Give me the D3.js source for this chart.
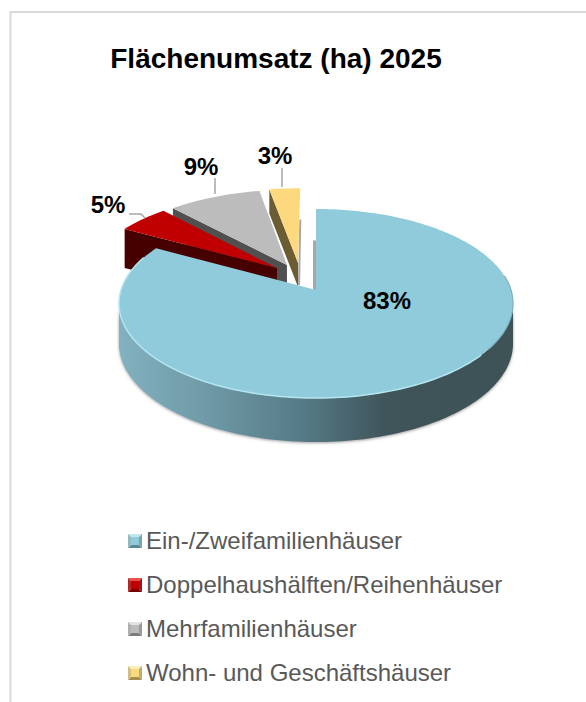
<!DOCTYPE html>
<html>
<head>
<meta charset="utf-8">
<script src="https://cdn.jsdelivr.net/npm/d3@7"></script>
<style>
  html, body { margin: 0; padding: 0; background: #fff; }
  svg { display: block; font-family: "Liberation Sans", Arial, sans-serif; }
</style>
</head>
<body>
<script>
// Chart data
const title = "Flächenumsatz (ha) 2025";
const categories = [
  "Ein-/Zweifamilienhäuser",
  "Doppelhaushälften/Reihenhäuser",
  "Mehrfamilienhäuser",
  "Wohn- und Geschäftshäuser",
];
const shares = [83, 5, 9, 3];
const shareLabels = ["83%", "5%", "9%", "3%"];

// Colours per slice
const topColors = ["#8fcbda", "#c00000", "#bcbcbc", "#fcd87e"];
const wallColors = ["#3d5257", "#470000", "#505050", "#6b5c33"];
const keyLight = ["#c3e6ee", "#e85050", "#e2e2e2", "#fdeebb"];
const keyDark = ["#5e8794", "#7a0000", "#7b7b7b", "#a58f50"];

const w = 586;
const h = 702;

// Perspective of the pie plane
const cx = 316;
const cy = 290;
const rx = 195;
const ry = 92.6;
const persp = 1 / 7;

// Slice offset on the pie plane and extrusion depth
const offsets = [[0, 0], [-0.207, -0.246], [-0.155, -0.281], [-0.096, -0.304]];
const depths = [40, 39, 30, 24];

// u, v are pie plane coordinates, radius 1 (v grows to the viewer)
function project(u, v) {
  const k = 1 - persp * v;
  return [cx + (rx * u) / k, cy + (ry * v) / k];
}

function rimPoint(i, a) {
  return project(offsets[i][0] + Math.sin(a), offsets[i][1] - Math.cos(a));
}

function apexPoint(i) {
  return project(offsets[i][0], offsets[i][1]);
}

const arcs = d3.pie().sort(null).value((d) => d)(shares);
const line = d3.line();

function sampleRim(i, a0, a1) {
  const n = Math.max(2, Math.ceil(Math.abs(a1 - a0) * 40));
  return d3.range(n + 1).map((k) => rimPoint(i, a0 + ((a1 - a0) * k) / n));
}

const svg = d3.select("body").append("svg").attr("width", w).attr("height", h);
const defs = svg.append("defs");

// Side of the big slice goes from light on the left to dark on the right
const wallGrad = defs
  .append("linearGradient")
  .attr("id", "wallGrad")
  .attr("gradientUnits", "userSpaceOnUse")
  .attr("x1", 119)
  .attr("x2", 513)
  .attr("y1", 0)
  .attr("y2", 0);
wallGrad.append("stop").attr("offset", 0).attr("stop-color", "#82b1bf");
wallGrad.append("stop").attr("offset", 0.22).attr("stop-color", "#6f9aa7");
wallGrad.append("stop").attr("offset", 0.47).attr("stop-color", "#557a85");
wallGrad.append("stop").attr("offset", 0.68).attr("stop-color", "#3f545a");
wallGrad.append("stop").attr("offset", 1).attr("stop-color", "#3d5257");

const soft = defs.append("filter").attr("id", "soft").attr("x", "-5%").attr("y", "-5%").attr("width", "110%").attr("height", "115%");
soft.append("feDropShadow").attr("dx", 0).attr("dy", 1).attr("stdDeviation", 1.5).attr("flood-color", "#777").attr("flood-opacity", 0.7);

const blur = defs.append("filter").attr("id", "blur");
blur.append("feGaussianBlur").attr("stdDeviation", 0.7);

// Frame, only top and left are in the crop
svg
  .append("path")
  .attr("d", `M10.5,${h}V12H${w}`)
  .attr("fill", "none")
  .attr("stroke", "#d9d9d9")
  .attr("stroke-width", 2);

svg
  .append("text")
  .attr("x", 276)
  .attr("y", 68)
  .attr("text-anchor", "middle")
  .attr("font-size", 28)
  .attr("font-weight", "bold")
  .attr("fill", "#000")
  .text(title);

// Thin shadows beside the cut edges
const shadows = [
  { i: 3, a: arcs[3].endAngle, dx: 2, from: 0, to: 0.55 },
  { i: 0, a: arcs[0].startAngle, dx: -3, from: 0, to: 0.58 },
];
shadows.forEach(function (s) {
  const a = project(offsets[s.i][0] + Math.sin(s.a) * s.from, offsets[s.i][1] - Math.cos(s.a) * s.from);
  const b = project(offsets[s.i][0] + Math.sin(s.a) * s.to, offsets[s.i][1] - Math.cos(s.a) * s.to);
  svg
    .append("path")
    .attr("d", line([[a[0], a[1] + (s.i === 3 ? 22 : 0)], b, [b[0] + s.dx, b[1]], [a[0] + s.dx, a[1] + (s.i === 3 ? 22 : 0)]]) + "Z")
    .attr("fill", "#a8a8a8")
    .attr("filter", "url(#blur)");
});

// Small slices, back to front, the big one covers their lower parts
[3, 2, 1].forEach(function (i) {
  const d = arcs[i];
  const apex = apexPoint(i);
  const outer = rimPoint(i, d.startAngle);
  svg
    .append("path")
    .attr("d", line([apex, outer, [outer[0], outer[1] + depths[i]], [apex[0], apex[1] + depths[i]]]) + "Z")
    .attr("fill", wallColors[i]);
  svg
    .append("path")
    .attr("d", line([apex].concat(sampleRim(i, d.startAngle, d.endAngle))) + "Z")
    .attr("fill", topColors[i]);
});

// Big slice
const big = arcs[0];
const sideRight = Math.acos(-persp);
const sideLeft = 2 * Math.PI - sideRight;
const frontRim = sampleRim(0, sideRight, sideLeft);
function sideDepth(p) {
  // a little deeper at the front of the pie
  return depths[0] + (4 * (p[1] - cy - 13)) / 95;
}
const wallPoints = frontRim.concat(
  frontRim
    .slice()
    .reverse()
    .map((p) => [p[0], p[1] + sideDepth(p)])
);
svg
  .append("path")
  .attr("d", line(wallPoints) + "Z")
  .attr("fill", "url(#wallGrad)")
  .attr("filter", "url(#soft)");
svg
  .append("path")
  .attr("d", line([apexPoint(0)].concat(sampleRim(0, big.startAngle, big.endAngle))) + "Z")
  .attr("fill", topColors[0]);

// Bevel along the front edge
svg
  .append("path")
  .attr("d", line(sampleRim(0, Math.PI * 0.72, Math.PI * 1.62)))
  .attr("fill", "none")
  .attr("stroke", "#b5e6f0")
  .attr("stroke-width", 1.5)
  .attr("filter", "url(#blur)");
svg
  .append("path")
  .attr("d", line(sampleRim(0, Math.PI * 0.45, Math.PI * 0.7)))
  .attr("fill", "none")
  .attr("stroke", "#7fb0bd")
  .attr("stroke-width", 1.2)
  .attr("filter", "url(#blur)");

// Leader lines and value labels
const leaders = [
  null,
  [[129, 214], [141, 214], [145, 218]],
  [[215, 178], [215, 194]],
  [[282, 168], [282, 187]],
];
const labelSpots = [[387, 303], [108, 207], [201, 168.5], [275, 157.5]];

leaders.forEach(function (pts) {
  if (!pts) return;
  svg
    .append("path")
    .attr("d", line(pts))
    .attr("fill", "none")
    .attr("stroke", "#a6a6a6")
    .attr("stroke-width", 1.5);
});

svg
  .selectAll("text.value")
  .data(shareLabels)
  .enter()
  .append("text")
  .attr("class", "value")
  .attr("x", (d, i) => labelSpots[i][0])
  .attr("y", (d, i) => labelSpots[i][1])
  .attr("text-anchor", "middle")
  .attr("dominant-baseline", "middle")
  .attr("font-size", 24)
  .attr("font-weight", "bold")
  .attr("fill", "#000")
  .text((d) => d);

// Legend
const legendY = d3
  .scalePoint()
  .domain(categories)
  .range([541, 673]);
const keySize = 14;
const keyX = 128;

const legend = svg
  .selectAll("g.legend")
  .data(categories)
  .enter()
  .append("g")
  .attr("class", "legend")
  .attr("transform", (d) => `translate(${keyX},${legendY(d)})`);

legend.each(function (d, i) {
  const g = d3.select(this);
  const s = keySize / 2;
  const inner = 3;
  const facet = (pts, fill) => g.append("path").attr("d", line(pts) + "Z").attr("fill", fill);
  facet([[0, -s], [2 * s, -s], [2 * s - inner, -s + inner], [inner, -s + inner]], keyLight[i]);
  facet([[0, s], [2 * s, s], [2 * s - inner, s - inner], [inner, s - inner]], keyDark[i]);
  facet([[0, -s], [inner, -s + inner], [inner, s - inner], [0, s]], d3.interpolateRgb(keyLight[i], keyDark[i])(0.5));
  facet([[2 * s, -s], [2 * s - inner, -s + inner], [2 * s - inner, s - inner], [2 * s, s]], d3.interpolateRgb(keyLight[i], keyDark[i])(0.7));
  g.append("rect")
    .attr("x", inner)
    .attr("y", -s + inner)
    .attr("width", 2 * s - 2 * inner)
    .attr("height", 2 * s - 2 * inner)
    .attr("fill", topColors[i]);
});

legend
  .append("text")
  .attr("x", 146 - keyX)
  .attr("y", 8)
  .attr("font-size", 24)
  .attr("fill", "#595959")
  .text((d) => d);
</script>
</body>
</html>
